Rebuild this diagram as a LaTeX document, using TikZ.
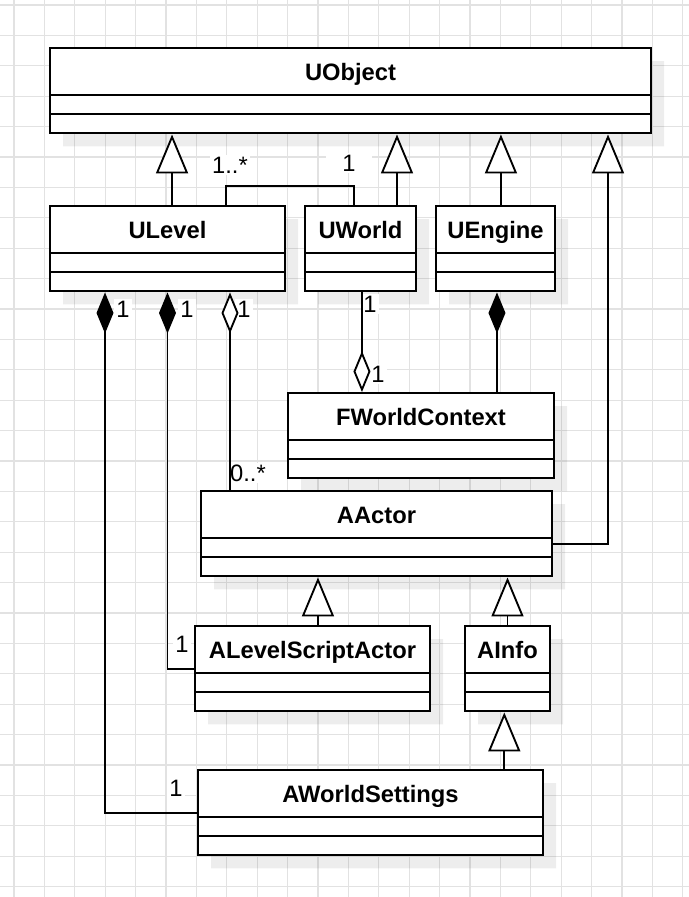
\documentclass[tikz,border=0pt]{standalone}
\usepackage{fontspec}
\setmainfont{Liberation Sans}
\usetikzlibrary{shapes.multipart,arrows.meta,shadows}
\definecolor{gridgray}{HTML}{E2E2E2}
\newcommand{\cname}[1]{\rule[-10.6pt]{0pt}{34.1pt}#1}

\begin{document}
\begin{tikzpicture}[x=0.75pt,y=-0.75pt,line width=1.5pt,
    umlclass/.style={rectangle split,rectangle split parts=3,draw,fill=white,
      anchor=north west,inner xsep=0pt,inner ysep=0pt,
      rectangle split empty part height=12.75pt,rectangle split empty part depth=0pt,
      font=\fontsize{17.8}{20}\selectfont\bfseries,
      drop shadow={shadow xshift=9.75pt,shadow yshift=-9.75pt,opacity=0.07,fill=black}},
    mult/.style={fill=white,inner sep=1.5pt,font=\fontsize{17.8}{20}\selectfont},
    inherit/.style={-{Triangle[length=29.25pt,width=24pt,fill=white]}},
    comp/.style={{Diamond[length=30.75pt,width=12.75pt]}-},
    aggr/.style={{Diamond[length=30.75pt,width=12.75pt,fill=white]}-}]
  \useasboundingbox (0,0) rectangle (689,897);
  \fill[white] (0,0) rectangle (689,897);
  \foreach \i in {0,...,22}
    \draw[gridgray,line width=1pt] (14+\i*30.4,0) -- (14+\i*30.4,897);
  \foreach \j in {0,...,29}
    \draw[gridgray,line width=1pt] (0,5+\j*30.4) -- (689,5+\j*30.4);

  \path
    (49,47) node[umlclass,minimum width=450.75pt] (uobject) {\cname{UObject}}
    (49,205) node[umlclass,minimum width=176.25pt] (ulevel) {\cname{ULevel}}
    (304,205) node[umlclass,minimum width=83.25pt] (uworld) {\cname{UWorld}}
    (435,205) node[umlclass,minimum width=89.25pt] (uengine) {\cname{UEngine}}
    (287,392) node[umlclass,minimum width=199.5pt] (fworldcontext) {\cname{FWorldContext}}
    (200,490) node[umlclass,minimum width=263.25pt] (aactor) {\cname{AActor}}
    (194,625) node[umlclass,minimum width=176.25pt] (alevelscriptactor) {\cname{ALevelScriptActor}}
    (464,625) node[umlclass,minimum width=63.75pt] (ainfo) {\cname{AInfo}}
    (197,769) node[umlclass,minimum width=258.75pt] (aworldsettings) {\cname{AWorldSettings}};

  \path
    (230,165) node[mult] (m1) {1..*}
    (349,163) node[mult,inner xsep=12pt] (m2) {1}
    (123,309) node[mult] (m3) {1}
    (187,309) node[mult] (m4) {1}
    (244,309) node[mult] (m5) {1}
    (370,304) node[mult] (m6) {1}
    (378,374) node[mult] (m7) {1}
    (248,473) node[mult] (m8) {0..*}
    (182,644) node[mult] (m9) {1}
    (176,788) node[mult] (m10) {1};

  \begin{scope}[line width=1.4pt]
    \draw[inherit] ([xshift=3.4pt]ulevel.north) to ([xshift=3.4pt]ulevel.north |- uobject.south);
    \draw[inherit] ([xshift=-15pt]uworld.north east) to ([xshift=-15pt]uworld.north east |- uobject.south);
    \draw[inherit] ([xshift=4.1pt]uengine.north) to ([xshift=4.1pt]uengine.north |- uobject.south);
    \draw[inherit] ([yshift=-7.7pt]aactor.east) -| ([xshift=-33pt]uobject.south east);
    \draw ([xshift=-45pt]ulevel.north east) |- ([xshift=37.5pt,yshift=14.25pt]uworld.north west)
      to ([xshift=37.5pt]uworld.north west);
    \draw[aggr] ([xshift=1.1pt]uworld.south |- fworldcontext.north) to ([xshift=1.1pt]uworld.south);
    \draw[comp] ([xshift=1.1pt]uengine.south) to ([xshift=1.1pt]uengine.south |- fworldcontext.north);
    \draw[comp] ([xshift=42pt]ulevel.south west) |- (aworldsettings.west);
    \draw[comp] (ulevel.south) |- (alevelscriptactor.west);
    \draw[aggr] ([xshift=-42pt]ulevel.south east) to ([xshift=-42pt]ulevel.south east |- aactor.north);
    \draw[inherit] ([xshift=4.1pt]alevelscriptactor.north) to ([xshift=4.1pt]alevelscriptactor.north |- aactor.south);
    \draw[inherit] (ainfo.north) to (ainfo.north |- aactor.south);
    \draw[inherit] ([xshift=-2.4pt]ainfo.south |- aworldsettings.north) to ([xshift=-2.4pt]ainfo.south);
  \end{scope}
\end{tikzpicture}
\end{document}
